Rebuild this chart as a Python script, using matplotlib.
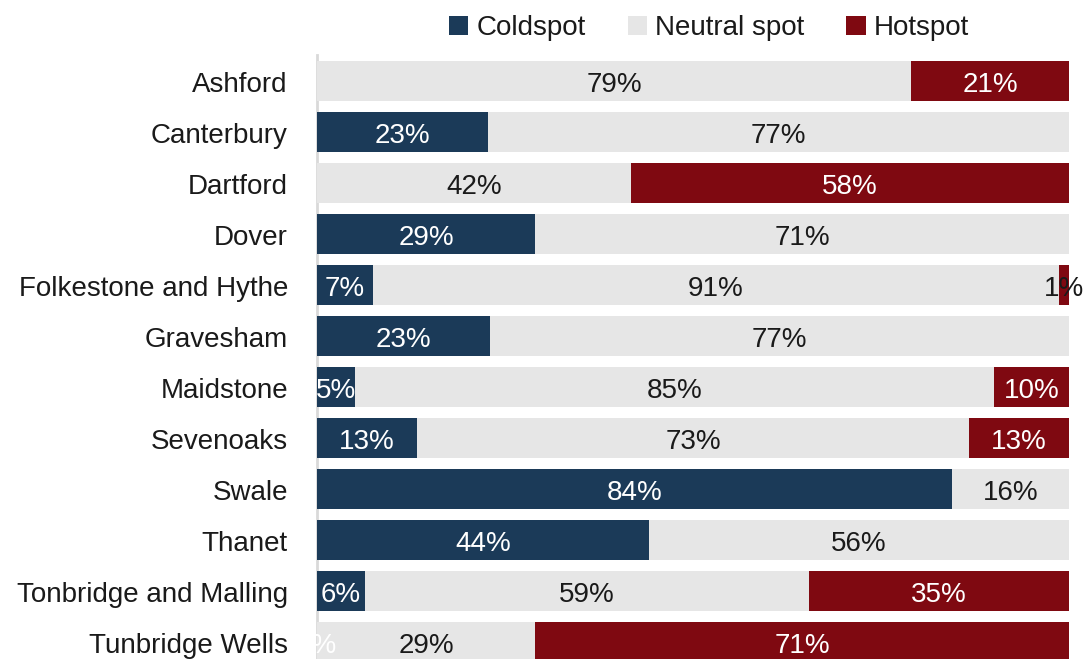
import matplotlib
matplotlib.use("Agg")
import matplotlib.pyplot as plt
from matplotlib.patches import Patch, Rectangle
import numpy as np

plt.rcParams['font.family'] = ['Liberation Sans', 'DejaVu Sans']

nan = np.nan
districts = ["Ashford", "Canterbury", "Dartford", "Dover", "Folkestone and Hythe",
             "Gravesham", "Maidstone", "Sevenoaks", "Swale", "Thanet",
             "Tonbridge and Malling", "Tunbridge Wells"]
coldspot = [nan, 22.7, nan, 29.0, 7.4, 23.0, 5.0, 13.3, 84.4, 44.1, 6.4, 0.0]
neutral = [79.0, 77.3, 41.8, 71.0, 91.2, 77.0, 85.0, 73.4, 15.6, 55.9, 59.0, 29.0]
hotspot = [21.0, nan, 58.2, nan, 1.4, nan, 10.0, 13.3, nan, nan, 34.6, 71.0]

series_names = ["Coldspot", "Neutral spot", "Hotspot"]
series_colors = ["#1b3a58", "#e6e6e6", "#7f0911"]
label_colors = ["white", "#1a1a1a", "white"]
dark = "#1a1a1a"
base_off = 0.215  # baseline offset below bar centre, in category units

fig = plt.figure(figsize=(10.91, 6.59), dpi=100)
ax = fig.add_axes([0.2906, -0.0129, 0.6893, 0.9287])

# labels are cut at the left axis line but may run past the right end
label_clip = Rectangle((0, -1), 200, len(districts) + 2, transform=ax.transData,
                       visible=False)
ax.add_patch(label_clip)

y = np.arange(len(districts))
left = np.zeros(len(districts))
for vals, name, col, tcol in zip([coldspot, neutral, hotspot], series_names,
                                 series_colors, label_colors):
    vals = np.array(vals, dtype=float)
    widths = np.nan_to_num(vals)
    ax.barh(y, widths, left=left, height=0.78, color=col, label=name)
    for yi, v, l in zip(y, vals, left):
        if np.isnan(v):
            continue
        c = dark if (col == series_colors[2] and v < 2) else tcol
        t = ax.text(l + v / 2, yi + base_off, f"{round(v):d}%", ha="center",
                    va="baseline", fontsize=20, color=c)
        t.set_clip_path(label_clip)
    left = left + widths

ax.set_xlim(0, 100)
ax.set_ylim(len(districts) - 0.5, -0.5)
ax.set_yticks(y + base_off)
ax.set_yticklabels(districts, fontsize=20, color=dark, va="baseline")
ax.tick_params(axis="y", length=0, pad=21)
ax.set_xticks([])
for s in ["top", "right", "bottom"]:
    ax.spines[s].set_visible(False)
ax.spines["left"].set_color("#d9d9d9")
ax.spines["left"].set_linewidth(2)
ax.spines["left"].set_zorder(0)

handles = [Patch(facecolor=c, edgecolor="none") for c in series_colors]
fig.legend(handles, series_names, loc="center", bbox_to_anchor=(0.650, 0.957),
           ncol=3, frameon=False, fontsize=20, handlelength=0.7, handleheight=0.7,
           handletextpad=0.3, columnspacing=1.5, labelcolor=dark)

fig.savefig("out.png", dpi=100)
